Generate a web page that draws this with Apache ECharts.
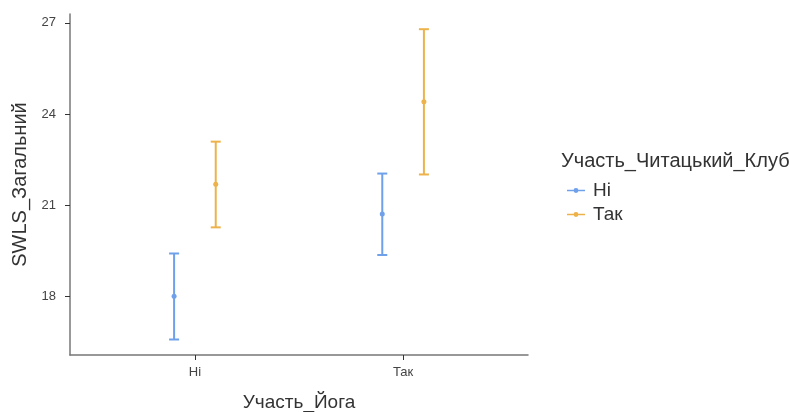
<!DOCTYPE html>
<html>
<head>
<meta charset="utf-8">
<script src="https://cdn.jsdelivr.net/npm/echarts@6/dist/echarts.min.js"></script>
<style>body{margin:0;background:#fff;}</style>
</head>
<body>
<div id="main" style="width:789px;height:412px;"></div>
<script type="text/javascript">
	// категорії осі X (Участь_Йога)
	var categories = ['Ні', 'Так'];
	// групи (Участь_Читацький_Клуб)
	var groups = ['Ні', 'Так'];
	// середні та межі довірчих інтервалів, по категоріях X
	var meanNi = [18.00, 20.71];
	var lowerNi = [16.58, 19.36];
	var upperNi = [19.41, 22.04];
	var meanTak = [21.69, 24.40];
	var lowerTak = [20.27, 22.01];
	var upperTak = [23.09, 26.79];
	var yTicks = [18, 21, 24, 27];

	var colors = ['#6FA0EA', '#EDB24A'];
	var dodge = [-0.1, 0.1];

	function buildData(mean, lower, upper, off) {
		return categories.map(function (c, i) {
			return [i + 1 + off, mean[i], lower[i], upper[i]];
		});
	}

	// малює вертикальну лінію з засічками і точку
	function renderBar(color) {
		return function (params, api) {
			var x = api.value(0);
			var pm = api.coord([x, api.value(1)]);
			var pl = api.coord([x, api.value(2)]);
			var pu = api.coord([x, api.value(3)]);
			var st = {stroke: color, lineWidth: 2};
			return {
				type: 'group',
				children: [
					{type: 'line', shape: {x1: pl[0], y1: pl[1], x2: pu[0], y2: pu[1]}, style: st},
					{type: 'line', shape: {x1: pl[0] - 5, y1: pl[1], x2: pl[0] + 5, y2: pl[1]}, style: st},
					{type: 'line', shape: {x1: pu[0] - 5, y1: pu[1], x2: pu[0] + 5, y2: pu[1]}, style: st},
					{type: 'circle', shape: {cx: pm[0], cy: pm[1], r: 2.5}, style: {fill: color}}
				]
			};
		};
	}

	var legendIcon = 'path://M0,4.2 L22,4.2 L22,5.8 L0,5.8 Z M11,2 A3,3 0 1 1 10.99,2 Z';

	var myEcharts = echarts.init(document.getElementById('main'));
	var option = {
		animation: false,
		textStyle: {fontFamily: '"Liberation Sans", Arial, sans-serif'},
		title: {
			text: 'Участь_Читацький_Клуб',
			left: 556,
			top: 146,
			textStyle: {fontSize: 20, fontWeight: 'normal', color: '#333', fontFamily: '"Liberation Sans", Arial, sans-serif'}
		},
		legend: {
			orient: 'vertical',
			left: 562,
			top: 176,
			itemGap: 5,
			itemWidth: 18,
			itemHeight: 8,
			textStyle: {fontSize: 19, color: '#333', padding: [0, 0, 0, 3]},
			data: [
				{name: groups[0], icon: legendIcon},
				{name: groups[1], icon: legendIcon}
			]
		},
		grid: {left: 70, right: 261, top: 14, bottom: 57, outerBoundsMode: 'none'},
		xAxis: {
			type: 'value',
			min: 0.4,
			max: 2.6,
			name: 'Участь_Йога',
			nameLocation: 'middle',
			nameGap: 38,
			nameTextStyle: {fontSize: 19, color: '#333'},
			axisLine: {lineStyle: {color: '#777', width: 1.5}},
			axisTick: {show: true, length: 5, customValues: [1, 2], lineStyle: {color: '#333'}},
			axisLabel: {
				customValues: [1, 2],
				fontSize: 13,
				color: '#444',
				margin: 11,
				formatter: function (v) { return categories[Math.round(v) - 1]; }
			},
			splitLine: {show: false}
		},
		yAxis: {
			type: 'value',
			min: 16.07,
			max: 27.29,
			name: 'SWLS_Загальний',
			nameLocation: 'middle',
			nameGap: 40,
			nameTextStyle: {fontSize: 20, color: '#333'},
			axisLine: {show: true, lineStyle: {color: '#777', width: 1.5}},
			axisTick: {show: true, length: 5, customValues: yTicks, lineStyle: {color: '#333'}},
			axisLabel: {customValues: yTicks, fontSize: 13, color: '#444', margin: 14},
			splitLine: {show: false}
		},
		series: [
			{
				name: groups[0],
				type: 'custom',
				color: colors[0],
				renderItem: renderBar(colors[0]),
				encode: {x: 0, y: [1, 2, 3]},
				data: buildData(meanNi, lowerNi, upperNi, dodge[0])
			},
			{
				name: groups[1],
				type: 'custom',
				color: colors[1],
				renderItem: renderBar(colors[1]),
				encode: {x: 0, y: [1, 2, 3]},
				data: buildData(meanTak, lowerTak, upperTak, dodge[1])
			}
		]
	};
	myEcharts.setOption(option);
</script>
</body>
</html>
